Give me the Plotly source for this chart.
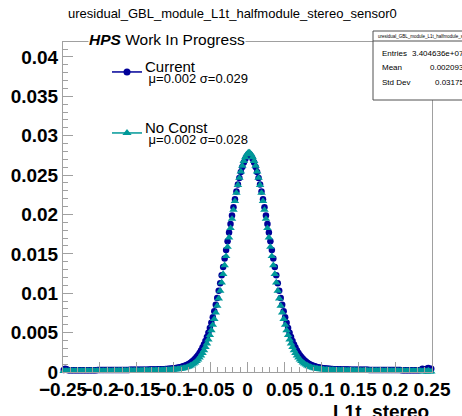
import plotly.graph_objects as go

# ---------------- data ----------------
X_MIN, X_MAX, N_BINS = -0.25, 0.25, 250
BIN_WIDTH = (X_MAX - X_MIN) / N_BINS
bin_centers = [X_MIN + (i + 0.5) * BIN_WIDTH for i in range(N_BINS)]

current_left_tail = [
    0.00024, 0.0004, 0.00035, 0.00023, 0.00023, 0.00022, 0.00023, 0.00023, 0.00022, 0.00023,
    0.00023, 0.00023, 0.00023, 0.00023, 0.00023, 0.00023, 0.00023, 0.00023, 0.00023, 0.00023,
    0.00023, 0.00023, 0.00023, 0.00024, 0.00024, 0.00024, 0.00024, 0.00024, 0.00024, 0.00024,
    0.00024, 0.00024, 0.00024, 0.00025, 0.00025, 0.00025, 0.00025, 0.00025, 0.00025, 0.00025,
    0.00026, 0.00026, 0.00026, 0.00026, 0.00026, 0.00027, 0.00027, 0.00027, 0.00027, 0.00028,
    0.00028, 0.00028, 0.00028, 0.00029, 0.00029, 0.00029, 0.0003, 0.0003, 0.00031, 0.00031,
    0.00032, 0.00032, 0.00033, 0.00033, 0.00034, 0.00034, 0.00035, 0.00035, 0.00036, 0.00037, 0.00038]
current_core = [
    0.000405, 0.00042, 0.000437, 0.000456, 0.000478, 0.000504, 0.000534, 0.00057, 0.000611, 0.000659,
    0.000715, 0.000782, 0.00086, 0.00095, 0.001056, 0.001179, 0.001322, 0.001485, 0.001675, 0.001892,
    0.002141, 0.002422, 0.00274, 0.0031, 0.003501, 0.003948, 0.004444, 0.004991, 0.005591, 0.006244,
    0.006952, 0.007716, 0.008532, 0.0094, 0.01032, 0.011284, 0.012289, 0.013331, 0.014401, 0.015491,
    0.016594, 0.017701, 0.018799, 0.019881, 0.020933, 0.021946, 0.022907, 0.023808, 0.024636, 0.025384,
    0.026041, 0.026601, 0.027057, 0.027406, 0.02765,
    0.02765, 0.027406, 0.027057, 0.026601, 0.026041, 0.025384, 0.024636, 0.023808, 0.022907, 0.021946,
    0.020933, 0.019881, 0.018799, 0.017701, 0.016594, 0.015491, 0.014401, 0.013331, 0.012289, 0.011284,
    0.01032, 0.0094, 0.008532, 0.007716, 0.006952, 0.006244, 0.005591, 0.004991, 0.004444, 0.003948,
    0.003501, 0.0031, 0.00274, 0.002422, 0.002141, 0.001892, 0.001675, 0.001485, 0.001322, 0.001179,
    0.001056, 0.00095, 0.00086, 0.000782, 0.000715, 0.000659, 0.000611, 0.00057, 0.000534, 0.000504,
    0.000478, 0.000456, 0.000437, 0.00042, 0.000405]
current_right_tail = [
    0.00038, 0.00037, 0.00036, 0.00035, 0.00035, 0.00034, 0.00034, 0.00033, 0.00033, 0.00032,
    0.00032, 0.00031, 0.00031, 0.0003, 0.0003, 0.00029, 0.00029, 0.00029, 0.00028, 0.00028,
    0.00028, 0.00028, 0.00027, 0.00027, 0.00027, 0.00027, 0.00026, 0.00026, 0.00026, 0.00026,
    0.00026, 0.00025, 0.00025, 0.00025, 0.00025, 0.00025, 0.00025, 0.00025, 0.00024, 0.00024,
    0.00024, 0.00024, 0.00024, 0.00024, 0.00024, 0.00024, 0.00024, 0.00024, 0.00023, 0.00023,
    0.00023, 0.00023, 0.00023, 0.00023, 0.00023, 0.00023, 0.00023, 0.00023, 0.00023, 0.00023,
    0.00023, 0.00024, 0.0004, 0.0003, 0.00023, 0.0004, 0.0005, 0.00035, 0.0004]

noconst_left_tail = [
    0.00012, 0.00012, 0.00012, 0.00012, 0.00013, 0.00012, 0.00013, 0.00013, 0.00012, 0.00013,
    0.00013, 0.00013, 0.00013, 0.00013, 0.00013, 0.00013, 0.00013, 0.00013, 0.00013, 0.00013,
    0.00013, 0.00013, 0.00013, 0.00013, 0.00013, 0.00013, 0.00014, 0.00014, 0.00014, 0.00014,
    0.00014, 0.00014, 0.00014, 0.00014, 0.00014, 0.00014, 0.00015, 0.00015, 0.00015, 0.00015,
    0.00015, 0.00015, 0.00015, 0.00015, 0.00016, 0.00016, 0.00016, 0.00016, 0.00016, 0.00017,
    0.00017, 0.00017, 0.00017, 0.00018, 0.00018, 0.00018, 0.00018, 0.00019, 0.00019, 0.0002,
    0.0002, 0.0002, 0.00021, 0.00021, 0.00022, 0.00022, 0.00023, 0.00023, 0.00024, 0.00024, 0.00025]
noconst_core = [
    0.000261, 0.000271, 0.000283, 0.000295, 0.00031, 0.000327, 0.000348, 0.000372, 0.000401, 0.000434,
    0.000473, 0.00052, 0.000576, 0.000642, 0.000721, 0.000814, 0.000924, 0.001053, 0.001203, 0.00138,
    0.001584, 0.001821, 0.002093, 0.002405, 0.002759, 0.003161, 0.003612, 0.004118, 0.00468, 0.0053,
    0.005983, 0.006726, 0.007532, 0.008402, 0.009328, 0.010312, 0.011349, 0.012432, 0.013554, 0.014708,
    0.015884, 0.017071, 0.018257, 0.01943, 0.020579, 0.021687, 0.022741, 0.023729, 0.024637, 0.025455,
    0.026172, 0.026776, 0.027262, 0.027622, 0.027854,
    0.027854, 0.027622, 0.027262, 0.026776, 0.026172, 0.025455, 0.024637, 0.023729, 0.022741, 0.021687,
    0.020579, 0.01943, 0.018257, 0.017071, 0.015884, 0.014708, 0.013554, 0.012432, 0.011349, 0.010312,
    0.009328, 0.008402, 0.007532, 0.006726, 0.005983, 0.0053, 0.00468, 0.004118, 0.003612, 0.003161,
    0.002759, 0.002405, 0.002093, 0.001821, 0.001584, 0.00138, 0.001203, 0.001053, 0.000924, 0.000814,
    0.000721, 0.000642, 0.000576, 0.00052, 0.000473, 0.000434, 0.000401, 0.000372, 0.000348, 0.000327,
    0.00031, 0.000295, 0.000283, 0.000271, 0.000261]
noconst_right_tail = [
    0.00025, 0.00024, 0.00024, 0.00023, 0.00023, 0.00022, 0.00022, 0.00021, 0.00021, 0.0002,
    0.0002, 0.0002, 0.00019, 0.00019, 0.00018, 0.00018, 0.00018, 0.00018, 0.00017, 0.00017,
    0.00017, 0.00017, 0.00016, 0.00016, 0.00016, 0.00016, 0.00016, 0.00015, 0.00015, 0.00015,
    0.00015, 0.00015, 0.00015, 0.00015, 0.00014, 0.00014, 0.00014, 0.00014, 0.00014, 0.00014,
    0.00014, 0.00014, 0.00013, 0.00013, 0.00013, 0.00013, 0.00013, 0.00013, 0.00013, 0.00013,
    0.00013, 0.00013, 0.00013, 0.00013, 0.00013, 0.00013, 0.00013, 0.00013, 0.00013, 0.00013,
    0.00013, 0.00012, 0.00006, 0.00012, 0.00008, 0.00005, 0.0002, 0.00005, 0.00004]

current_values = current_left_tail + current_core + current_right_tail
noconst_values = noconst_left_tail + noconst_core + noconst_right_tail

series_names = ["Current", "No Const"]
series_stats = [" \u03bc=0.002 \u03c3=0.029", " \u03bc=0.002 \u03c3=0.028"]
stats_labels = ["Entries", "Mean", "Std Dev"]
stats_values = ["3.404636e+07", "0.002093", "0.03175"]
hist_name = "uresidual_GBL_module_L1t_halfmodule_stereo_sensor0"
x_title = "L1t_stereo"

# ---------------- styling ----------------
W, H = 462, 416
ML, MR, MT, MB = 63, 30, 42, 44
PW, PH = W - ML - MR, H - MT - MB
BLUE = "#000099"
TEAL = "#009999"
AXC = "#a0a0a0"
FONT = "Liberation Sans, Arial, Helvetica, sans-serif"


def px(X):
    return (X - ML) / PW


def py(Y):
    return (H - MB - Y) / PH


fig = go.Figure()
fig.add_trace(go.Scatter(x=bin_centers, y=current_values, mode="markers",
                         marker=dict(symbol="circle", size=6.5, color=BLUE),
                         showlegend=False, cliponaxis=False))
fig.add_trace(go.Scatter(x=bin_centers, y=noconst_values, mode="markers",
                         marker=dict(symbol="triangle-up", size=7.5, color=TEAL),
                         showlegend=False, cliponaxis=False))

# legend glyphs (line + marker) in two separate legends
fig.add_trace(go.Scatter(x=[None], y=[None], mode="lines+markers", name=" ",
                         line=dict(color=BLUE, width=1.5),
                         marker=dict(symbol="circle", size=7, color=BLUE),
                         legend="legend"))
fig.add_trace(go.Scatter(x=[None], y=[None], mode="lines+markers", name=" ",
                         line=dict(color=TEAL, width=1.5),
                         marker=dict(symbol="triangle-up", size=8, color=TEAL),
                         legend="legend2"))

leg_common = dict(xanchor="left", yanchor="middle", bgcolor="rgba(0,0,0,0)",
                  borderwidth=0, font=dict(family=FONT, size=13, color="black"),
                  itemwidth=30)
annotations = []
shapes = []

legend_rows = [72, 133]
for row_y, name, st in zip(legend_rows, series_names, series_stats):
    annotations.append(dict(xref="paper", yref="paper", x=px(143), y=py(row_y - 6),
                            text=name, showarrow=False, xanchor="left", yanchor="middle",
                            font=dict(family=FONT, size=15, color="black")))
    annotations.append(dict(xref="paper", yref="paper", x=px(143), y=py(row_y + 6.5),
                            text=st, showarrow=False, xanchor="left", yanchor="middle",
                            font=dict(family=FONT, size=13, color="black")))

# title
annotations.append(dict(xref="paper", yref="paper", x=px(232), y=py(14), text=hist_name,
                        showarrow=False, xanchor="center", yanchor="middle",
                        font=dict(family=FONT, size=13, color="black")))
# HPS label
annotations.append(dict(xref="paper", yref="paper", x=px(88), y=py(40),
                        text="<b><i>HPS</i></b> Work In Progress",
                        showarrow=False, xanchor="left", yanchor="middle",
                        bgcolor="white", borderpad=0,
                        font=dict(family=FONT, size=15.5, color="black")))
# x axis title
annotations.append(dict(xref="paper", yref="paper", x=px(431), y=py(412), text="<b>%s</b>" % x_title,
                        showarrow=False, xanchor="right", yanchor="middle",
                        font=dict(family=FONT, size=19, color="black")))

# stats box
BX0, BX1, BY0, BY1, BYH = 373, 475, 31, 100, 41
shapes.append(dict(type="rect", xref="paper", yref="paper", x0=px(BX0), x1=px(BX1),
                   y0=py(BY1), y1=py(BY0), fillcolor="white",
                   line=dict(color="#505050", width=1), layer="above"))
shapes.append(dict(type="line", xref="paper", yref="paper", x0=px(BX0), x1=px(BX1),
                   y0=py(BYH), y1=py(BYH), line=dict(color="#505050", width=1), layer="above"))
annotations.append(dict(xref="paper", yref="paper", x=px(BX0 + 3), y=py(36), text=hist_name,
                        showarrow=False, xanchor="left", yanchor="middle",
                        font=dict(family=FONT, size=4.5, color="black")))
for j, (lab, val) in enumerate(zip(stats_labels, stats_values)):
    yy = 53 + j * 14.5
    annotations.append(dict(xref="paper", yref="paper", x=px(380), y=py(yy), text=lab,
                            showarrow=False, xanchor="left", yanchor="middle",
                            font=dict(family=FONT, size=8, color="black")))
    annotations.append(dict(xref="paper", yref="paper", x=px(466), y=py(yy), text=val,
                            showarrow=False, xanchor="right", yanchor="middle",
                            font=dict(family=FONT, size=8, color="black")))

tickfont = dict(family=FONT, size=19, color="black", weight="bold")
fig.update_layout(
    width=W, height=H, margin=dict(l=ML, r=MR, t=MT, b=MB, autoexpand=False),
    paper_bgcolor="white", plot_bgcolor="white",
    xaxis=dict(range=[X_MIN, X_MAX], dtick=0.05, tick0=0, ticks="inside", ticklen=10,
               tickangle=0, tickcolor=AXC, showline=True, linecolor=AXC, linewidth=1, mirror=True,
               showgrid=False, zeroline=False, tickfont=tickfont,
               minor=dict(dtick=0.01, ticks="inside", ticklen=5, tickcolor=AXC, showgrid=False)),
    yaxis=dict(range=[0, 0.0419], dtick=0.005, tick0=0, ticks="inside", ticklen=10,
               tickcolor=AXC, showline=True, linecolor=AXC, linewidth=1, mirror=True,
               showgrid=False, zeroline=False, tickfont=tickfont,
               minor=dict(dtick=0.001, ticks="inside", ticklen=5, tickcolor=AXC, showgrid=False)),
    legend=dict(x=px(107), y=py(72), **leg_common),
    legend2=dict(x=px(107), y=py(133), **leg_common),
    annotations=annotations, shapes=shapes,
)

fig.write_html("out.html", config={"displayModeBar": False},
               post_script="document.body.style.margin='0px';document.body.style.overflow='hidden';")
